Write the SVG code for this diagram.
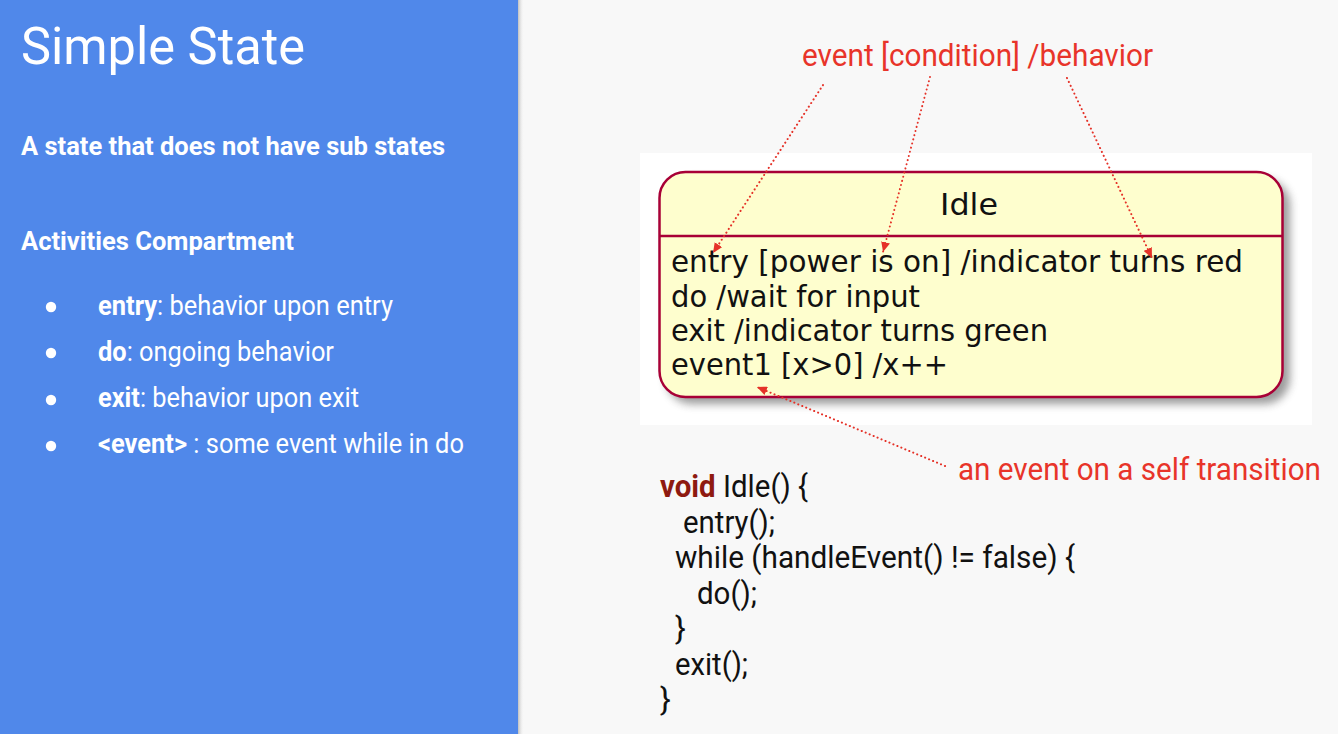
<svg xmlns="http://www.w3.org/2000/svg" width="1338" height="734" viewBox="0 0 1338 734">
<style>
.pw{font-family:Roboto,"Liberation Sans",sans-serif;fill:#ffffff}
.b{font-weight:700}
.red{font-family:Roboto,"Liberation Sans",sans-serif;fill:#E8342A;font-size:31px}
.uml{font-family:"DejaVu Sans","Liberation Sans",sans-serif;fill:#111111;font-size:30px}
.code{font-family:Roboto,"Liberation Sans",sans-serif;fill:#111111;font-size:32px}
.kw{fill:#8E1A10;font-weight:700}
.dot{fill:none;stroke:#E53228;stroke-width:2;stroke-dasharray:0.1 4.2;stroke-linecap:round}
</style>
<defs>
<marker id="ah" markerUnits="userSpaceOnUse" markerWidth="11" markerHeight="9" refX="10" refY="4.5" orient="auto">
<path d="M0,0 L10,4.5 L0,9 z" fill="#E53228"/>
</marker>
<filter id="sh" x="-10%" y="-10%" width="120%" height="130%">
<feGaussianBlur stdDeviation="4"/>
</filter>
<linearGradient id="edge" x1="0" y1="0" x2="1" y2="0">
<stop offset="0" stop-color="#9a9a9a" stop-opacity="0.6"/>
<stop offset="1" stop-color="#f8f8f8" stop-opacity="0"/>
</linearGradient>
</defs>
<rect x="0" y="0" width="1338" height="734" fill="#F8F8F8"/>
<g id="panel">
<rect x="0" y="0" width="518" height="734" fill="#5088EA"/>
<rect x="518" y="0" width="6" height="734" fill="url(#edge)"/>
<text class="pw" x="21" y="64" font-size="52" textLength="284" lengthAdjust="spacingAndGlyphs">Simple State</text>
<text class="pw b" x="21" y="155" font-size="26" textLength="424" lengthAdjust="spacingAndGlyphs">A state that does not have sub states</text>
<text class="pw b" x="21" y="250" font-size="26" textLength="273" lengthAdjust="spacingAndGlyphs">Activities Compartment</text>
<circle cx="51" cy="307" r="5.2" fill="#ffffff"/>
<circle cx="51" cy="353" r="5.2" fill="#ffffff"/>
<circle cx="51" cy="400" r="5.2" fill="#ffffff"/>
<circle cx="51" cy="446" r="5.2" fill="#ffffff"/>
<text class="pw" x="98" y="315" font-size="27" textLength="295" lengthAdjust="spacingAndGlyphs"><tspan class="b">entry</tspan>: behavior upon entry</text>
<text class="pw" x="98" y="361" font-size="27" textLength="236" lengthAdjust="spacingAndGlyphs"><tspan class="b">do</tspan>: ongoing behavior</text>
<text class="pw" x="98" y="407" font-size="27" textLength="261" lengthAdjust="spacingAndGlyphs"><tspan class="b">exit</tspan>: behavior upon exit</text>
<text class="pw" x="98" y="453" font-size="27" textLength="366" lengthAdjust="spacingAndGlyphs"><tspan class="b">&lt;event&gt;</tspan> : some event while in do</text>
</g>
<rect x="640" y="153" width="672" height="272" fill="#FFFFFF"/>
<g id="idle">
<rect x="666" y="179" width="624" height="225" rx="26" fill="#666666" opacity="0.65" filter="url(#sh)"/>
<rect x="659.5" y="172" width="623" height="225" rx="26" fill="#FEFECE" stroke="#A80036" stroke-width="2.5"/>
<line x1="659.5" y1="236" x2="1282.5" y2="236" stroke="#A80036" stroke-width="2.5"/>
<text class="uml" x="969" y="215" font-size="34" text-anchor="middle" textLength="58" lengthAdjust="spacingAndGlyphs">Idle</text>
<text class="uml" x="671" y="272" textLength="572" lengthAdjust="spacingAndGlyphs">entry [power is on] /indicator turns red</text>
<text class="uml" x="671" y="306.5" textLength="249" lengthAdjust="spacingAndGlyphs">do /wait for input</text>
<text class="uml" x="671" y="340.5" textLength="377" lengthAdjust="spacingAndGlyphs">exit /indicator turns green</text>
<text class="uml" x="671" y="375" textLength="277" lengthAdjust="spacingAndGlyphs">event1 [x&gt;0] /x++</text>
</g>
<g id="label-event">
<text class="red" x="802" y="66" textLength="351" lengthAdjust="spacingAndGlyphs">event [condition] /behavior</text>
</g>
<g id="label-self">
<text class="red" x="958" y="480" textLength="363" lengthAdjust="spacingAndGlyphs">an event on a self transition</text>
</g>
<g id="code">
<text class="code" x="660" y="497" textLength="148" lengthAdjust="spacingAndGlyphs"><tspan class="kw">void</tspan> Idle() {</text>
<text class="code" x="683" y="532.5" textLength="92" lengthAdjust="spacingAndGlyphs">entry();</text>
<text class="code" x="675" y="568" textLength="400" lengthAdjust="spacingAndGlyphs">while (handleEvent() != false) {</text>
<text class="code" x="697" y="603.5" textLength="60" lengthAdjust="spacingAndGlyphs">do();</text>
<text class="code" x="675" y="639">}</text>
<text class="code" x="675" y="674.5" textLength="73" lengthAdjust="spacingAndGlyphs">exit();</text>
<text class="code" x="660" y="710">}</text>
</g>
<g id="connectors">
<path class="dot" d="M823,85 L713,253" marker-end="url(#ah)"/>
<path class="dot" d="M930,77 L883,252" marker-end="url(#ah)"/>
<path class="dot" d="M1067,78 L1152,258" marker-end="url(#ah)"/>
<path class="dot" d="M945,466 L757,387" marker-end="url(#ah)"/>
</g>
</svg>
